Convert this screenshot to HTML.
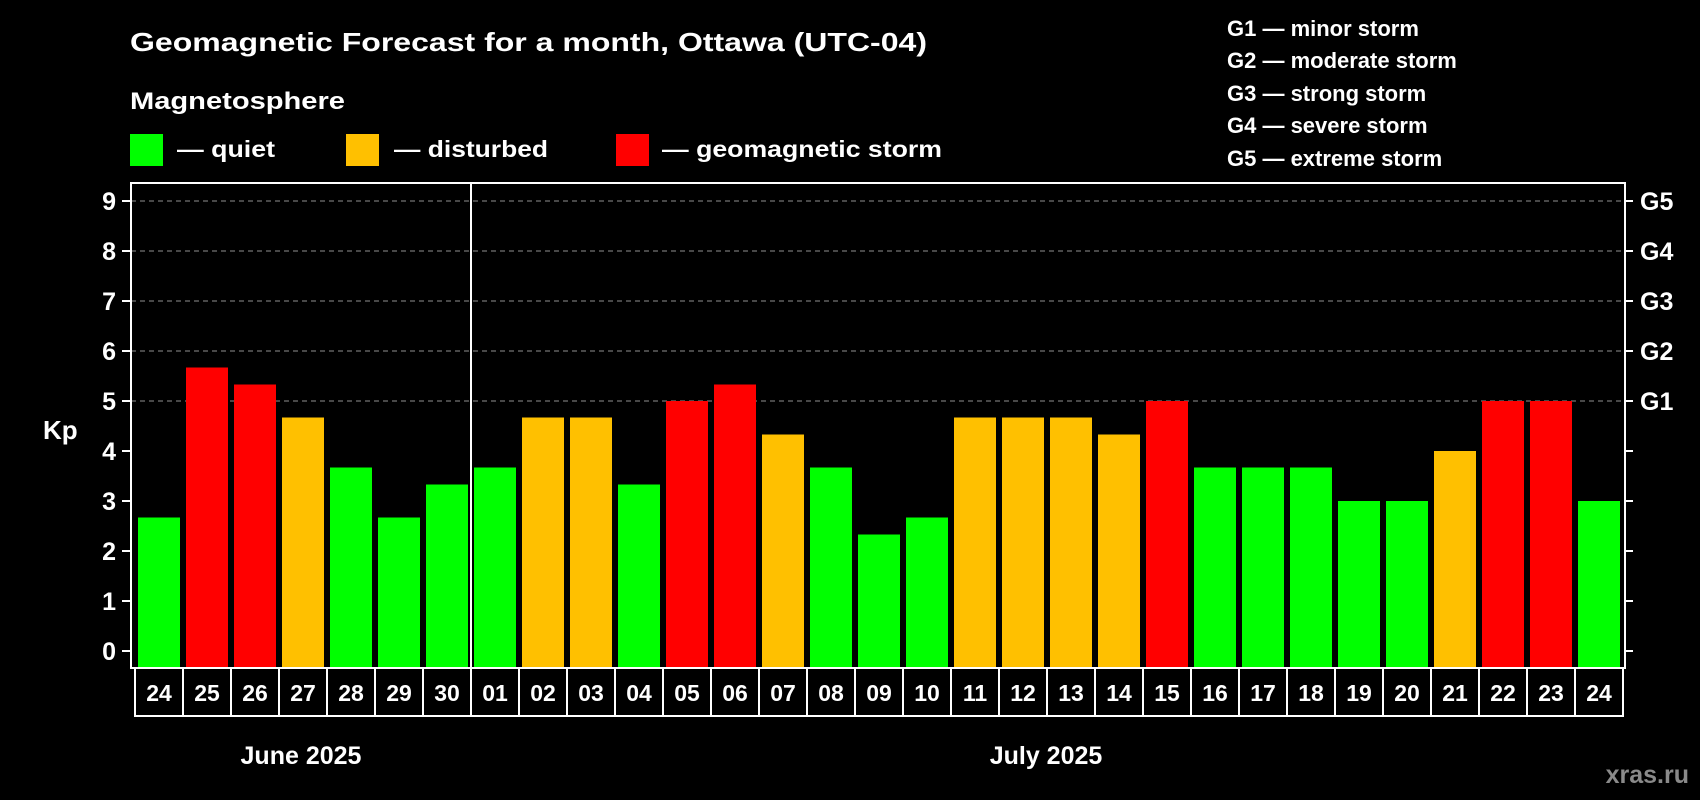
<!DOCTYPE html>
<html><head><meta charset="utf-8"><style>
html,body{margin:0;padding:0;background:#000;}
svg{display:block;font-family:"Liberation Sans",Arial,sans-serif;font-weight:bold;}
</style></head><body>
<svg id="chart" width="1700" height="800" viewBox="0 0 1700 800">
<rect width="1700" height="800" fill="#000"/>
<text x="130" y="51" fill="#fff" font-size="26" textLength="797" lengthAdjust="spacingAndGlyphs">Geomagnetic Forecast for a month, Ottawa (UTC-04)</text>
<text x="130" y="109" fill="#fff" font-size="24" textLength="215" lengthAdjust="spacingAndGlyphs">Magnetosphere</text>
<g><rect x="130" y="134" width="33" height="32" fill="#00ff00"/><text x="177" y="157" fill="#fff" font-size="23" textLength="98" lengthAdjust="spacingAndGlyphs">— quiet</text></g>
<g><rect x="346" y="134" width="33" height="32" fill="#ffc000"/><text x="394" y="157" fill="#fff" font-size="23" textLength="154" lengthAdjust="spacingAndGlyphs">— disturbed</text></g>
<g><rect x="616" y="134" width="33" height="32" fill="#ff0000"/><text x="662" y="157" fill="#fff" font-size="23" textLength="280" lengthAdjust="spacingAndGlyphs">— geomagnetic storm</text></g>
<g fill="#fff" font-size="22">
<text x="1227" y="36">G1 — minor storm</text>
<text x="1227" y="68">G2 — moderate storm</text>
<text x="1227" y="101">G3 — strong storm</text>
<text x="1227" y="133">G4 — severe storm</text>
<text x="1227" y="166">G5 — extreme storm</text>
</g>
<text x="43" y="439" fill="#fff" font-size="26">Kp</text>
<g id="grid"></g><g id="bars"></g><g id="axes"></g>
<text x="301" y="764" fill="#fff" font-size="25" text-anchor="middle">June 2025</text>
<text x="1046" y="764" fill="#fff" font-size="25" text-anchor="middle">July 2025</text>
<text x="1689" y="783" fill="#8a8a8a" font-size="25" text-anchor="end">xras.ru</text>
</svg>
<script>
const days = ["24","25","26","27","28","29","30","01","02","03","04","05","06","07","08","09","10","11","12","13","14","15","16","17","18","19","20","21","22","23","24"];
const kpValues = [2.67,5.67,5.33,4.67,3.67,2.67,3.33,3.67,4.67,4.67,3.33,5,5.33,4.33,3.67,2.33,2.67,4.67,4.67,4.67,4.33,5,3.67,3.67,3.67,3,3,4,5,5,3];
const yTicks = [0,1,2,3,4,5,6,7,8,9];
const gLabels = ["G1","G2","G3","G4","G5"];
const NS="http://www.w3.org/2000/svg";
const L=131,R=1625,T=183,B=668,Y0=651,UNIT=50;
const X0=135,STEP=48,BW=42;
function y(v){return Y0-v*UNIT;}
function x(i){return X0+i*STEP;}
function mk(tag,attrs,parent){const e=document.createElementNS(NS,tag);for(const k in attrs)e.setAttribute(k,attrs[k]);parent.appendChild(e);return e;}
function color(v){return v>=5?"#ff0000":(v>=4?"#ffc000":"#00ff00");}
const grid=document.getElementById('grid'),bars=document.getElementById('bars'),axes=document.getElementById('axes');
yTicks.forEach(v=>{
  if(v>=5){const g=mk('line',{x1:L,x2:R,y1:y(v),y2:y(v),stroke:'#909090','stroke-width':1,'stroke-dasharray':'5,4'},grid);
  
  }
  const t=mk('line',{x1:L-9,x2:L,y1:y(v),y2:y(v),stroke:'#fff','stroke-width':2},axes);
  
  
  const t2=mk('line',{x1:R,x2:R+8,y1:y(v),y2:y(v),stroke:'#fff','stroke-width':2},axes);
  
  
  const lb=mk('text',{x:116,y:y(v)+9,fill:'#fff','font-size':25,'text-anchor':'end'},axes);
  lb.textContent=v;
  
  
});
gLabels.forEach((g,i)=>{
  const lb=mk('text',{x:1640,y:y(5+i)+9,fill:'#fff','font-size':25},axes);
  lb.textContent=g;
  
  
});
kpValues.forEach((v,i)=>{
  const r=mk('rect',{x:x(i)+3,y:y(v),width:BW,height:B-y(v),fill:color(v)},bars);
  
  
  const box=mk('rect',{x:x(i),y:B,width:STEP,height:48,fill:'none',stroke:'#fff','stroke-width':2},axes);
  
  
  const t=mk('text',{x:x(i)+STEP/2,y:B+33,fill:'#fff','font-size':23,'text-anchor':'middle'},axes);
  t.textContent=days[i];
  
  
});
const frame=mk('rect',{x:L,y:T,width:R-L,height:B-T,fill:'none',stroke:'#fff','stroke-width':2},axes);


const sep=mk('line',{x1:x(7),x2:x(7),y1:T,y2:B,stroke:'#fff','stroke-width':2},axes);


</script>
</body></html>
